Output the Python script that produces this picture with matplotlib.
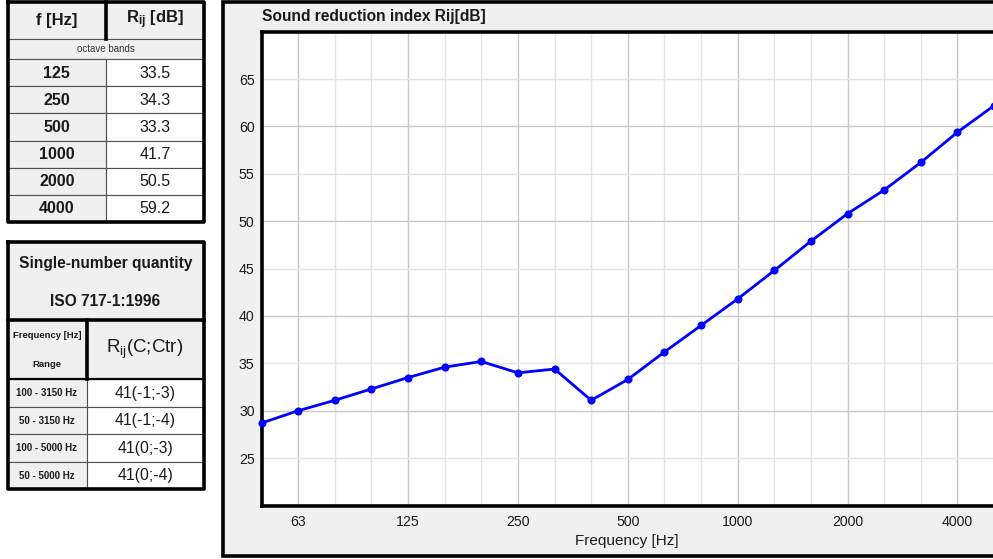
import matplotlib
matplotlib.use("Agg")
import matplotlib.pyplot as plt
from matplotlib.patches import Rectangle
from matplotlib.ticker import FormatStrFormatter

plt.rcParams["font.family"] = ["Liberation Sans", "DejaVu Sans"]
plt.rcParams["mathtext.default"] = "regular"

# One-third octave band centre frequencies and sound reduction index
band_freqs = [50, 63, 80, 100, 125, 160, 200, 250, 315, 400, 500, 630,
              800, 1000, 1250, 1600, 2000, 2500, 3150, 4000, 5000]
band_R = [28.7, 30.0, 31.1, 32.3, 33.5, 34.6, 35.2, 34.0, 34.4, 31.1, 33.3,
          36.2, 39.0, 41.8, 44.8, 47.9, 50.8, 53.3, 56.2, 59.4, 62.2]
x_tick_labels = [63, 125, 250, 500, 1000, 2000, 4000]
y_ticks_major = [30, 40, 50, 60]
y_ticks_minor = [25, 35, 45, 55, 65]

# Octave band summary table
octave_freqs = ["125", "250", "500", "1000", "2000", "4000"]
octave_R = [33.5, 34.3, 33.3, 41.7, 50.5, 59.2]

# Single-number quantities
sn_ranges = ["100 - 3150 Hz", "50 - 3150 Hz", "100 - 5000 Hz", "50 - 5000 Hz"]
sn_values = ["41(-1;-3)", "41(-1;-4)", "41(0;-3)", "41(0;-4)"]

W, H = 993, 559
fig = plt.figure(figsize=(W / 100, H / 100), dpi=100)
fig.patch.set_facecolor("white")

# Pixel-space canvas for the tables and the chart panel
bg = fig.add_axes([0, 0, 1, 1], zorder=0)
bg.set_xlim(0, W)
bg.set_ylim(H, 0)
bg.axis("off")

GRAY = "#f0f0f0"
TXT = "#1a1a1a"
THIN = "#505050"


def cell(x0, y0, x1, y1, fc):
    bg.add_patch(Rectangle((x0, y0), x1 - x0, y1 - y0, facecolor=fc,
                           edgecolor=THIN, linewidth=0.8))


def thick(xs, ys, lw=2.6):
    bg.plot(xs, ys, color="black", linewidth=lw, solid_capstyle="projecting")


# ---- Table 1: octave bands ----
tx0, tx1, tx2 = 7.5, 106, 203.5
ty_head, ty_oct, ty_top, ty_bot = 2, 38.5, 59, 222
cell(tx0, ty_head, tx1, ty_oct, GRAY)
cell(tx1, ty_head, tx2, ty_oct, GRAY)
cell(tx0, ty_oct, tx2, ty_top, GRAY)
bg.text((tx0 + tx1) / 2, 20, "f [Hz]", ha="center", va="center",
        fontsize=12, fontweight="bold", color=TXT)
bg.text((tx1 + tx2) / 2, 20, r"R$_\mathregular{ij}$ [dB]", ha="center",
        va="center", fontsize=12, fontweight="bold", color=TXT)
bg.text((tx0 + tx2) / 2, 49, "octave bands", ha="center", va="center",
        fontsize=7, color="#333333")
rh = (ty_bot - ty_top) / len(octave_freqs)
for i, (f, r) in enumerate(zip(octave_freqs, octave_R)):
    y0 = ty_top + i * rh
    cell(tx0, y0, tx1, y0 + rh, GRAY)
    cell(tx1, y0, tx2, y0 + rh, "white")
    bg.text((tx0 + tx1) / 2, y0 + rh / 2 + 0.5, f, ha="center", va="center",
            fontsize=11.5, fontweight="bold", color=TXT)
    bg.text((tx1 + tx2) / 2, y0 + rh / 2 + 0.5, f"{r:.1f}", ha="center",
            va="center", fontsize=11.5, color=TXT)
thick([tx0, tx2, tx2, tx0, tx0], [ty_head, ty_head, ty_bot, ty_bot, ty_head])
thick([tx1, tx1], [ty_head, ty_oct])

# ---- Table 2: single-number quantity ----
sx0, sx1, sx2 = 7.5, 86.5, 203.5
sy_top, sy_sec, sy_head, sy_bot = 241.5, 320, 379, 489
cell(sx0, sy_top, sx2, sy_sec, GRAY)
cell(sx0, sy_sec, sx1, sy_head, GRAY)
cell(sx1, sy_sec, sx2, sy_head, GRAY)
bg.text((sx0 + sx2) / 2, 263.5, "Single-number quantity", ha="center",
        va="center", fontsize=11.2, fontweight="bold", color=TXT)
bg.text((sx0 + sx2) / 2, 301.5, "ISO 717-1:1996", ha="center",
        va="center", fontsize=11.2, fontweight="bold", color=TXT)
bg.text((sx0 + sx1) / 2, 335, "Frequency [Hz]", ha="center", va="center",
        fontsize=6.8, fontweight="bold", color=TXT)
bg.text((sx0 + sx1) / 2, 364.5, "Range", ha="center", va="center",
        fontsize=6.8, fontweight="bold", color=TXT)
bg.text((sx1 + sx2) / 2, 349, r"R$_\mathregular{ij}$(C;Ctr)", ha="center",
        va="center", fontsize=13.5, color=TXT)
rh2 = (sy_bot - sy_head) / len(sn_ranges)
for i, (rng, val) in enumerate(zip(sn_ranges, sn_values)):
    y0 = sy_head + i * rh2
    cell(sx0, y0, sx1, y0 + rh2, GRAY)
    cell(sx1, y0, sx2, y0 + rh2, "white")
    bg.text((sx0 + sx1) / 2, y0 + rh2 / 2 + 0.5, rng, ha="center",
            va="center", fontsize=7, fontweight="bold", color=TXT)
    bg.text((sx1 + sx2) / 2, y0 + rh2 / 2 + 0.5, val, ha="center",
            va="center", fontsize=11.3, color=TXT)
thick([sx0, sx2, sx2, sx0, sx0], [sy_top, sy_top, sy_bot, sy_bot, sy_top])
thick([sx0, sx2], [sy_sec, sy_sec])
thick([sx1, sx1], [sy_sec, sy_head])
thick([sx0, sx2], [sy_head, sy_head], lw=1.6)

# ---- Chart panel ----
bg.add_patch(Rectangle((222.5, 2), 800, 554, facecolor=GRAY,
                       edgecolor="black", linewidth=2.6))
bg.text(262.5, 16.5, "Sound reduction index Rij[dB]", ha="left",
        va="center", fontsize=11.2, fontweight="bold", color=TXT)

ax_l, ax_t, ax_b = 261.5, 31.7, 505.5
band_px = 36.63
xmax = 20.2
ax_w = xmax * band_px
ax = fig.add_axes([ax_l / W, (H - ax_b) / H, ax_w / W, (ax_b - ax_t) / H],
                  zorder=2)
ax.set_facecolor("white")

idx = list(range(len(band_freqs)))
ax.plot(idx, band_R, color="#0000ff", linewidth=2, marker="o",
        markersize=4.8, zorder=3, clip_on=False)

ax.set_xlim(0, xmax)
ax.set_ylim(20, 70)

major_x = [band_freqs.index(f) for f in x_tick_labels]
minor_x = [i for i in idx if i not in major_x and i != 0]
ax.set_xticks(major_x, [str(f) for f in x_tick_labels])
ax.set_xticks(minor_x, minor=True)
ax.set_yticks(y_ticks_major)
ax.set_yticks(y_ticks_minor, minor=True)
ax.yaxis.set_major_formatter(FormatStrFormatter("%d"))
ax.yaxis.set_minor_formatter(FormatStrFormatter("%d"))

ax.grid(which="major", color="#c8c8c8", linewidth=1.0)
ax.grid(which="minor", color="#e4e4e4", linewidth=1.0)
ax.set_axisbelow(True)
ax.tick_params(which="both", length=0, labelsize=10.2, colors=TXT)
ax.tick_params(axis="y", which="both", pad=5)
ax.tick_params(axis="x", which="both", pad=7)

for side in ("left", "bottom", "top"):
    ax.spines[side].set_linewidth(2.6)
    ax.spines[side].set_color("black")
ax.spines["right"].set_visible(False)

ax.set_xlabel("Frequency [Hz]", fontsize=11, color=TXT)
ax.xaxis.set_label_coords((627 - ax_l) / ax_w, -(533.5 - ax_b) / (ax_b - ax_t))

fig.savefig("out.png", dpi=100)
